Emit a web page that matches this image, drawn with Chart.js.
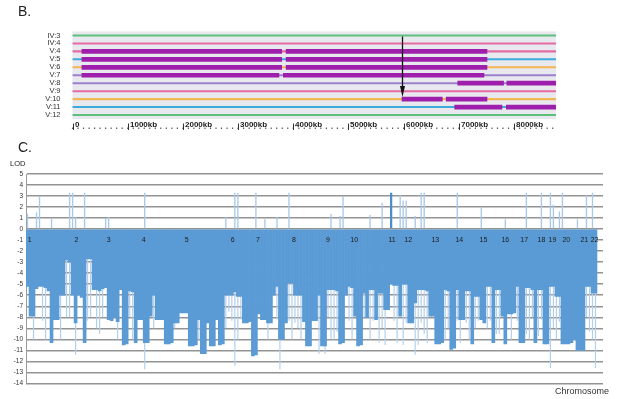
<!DOCTYPE html>
<html>
<head>
<meta charset="utf-8">
<script src="https://cdn.jsdelivr.net/npm/chart.js@4/dist/chart.umd.min.js"></script>
<style>
  html, body { margin:0; padding:0; background:#fff; width:628px; height:399px; overflow:hidden; }
  #wrap { position:relative; width:628px; height:399px; font-family:"Liberation Sans", Arial, sans-serif; }
  canvas { position:absolute; left:0; }
  #cB { top:0; }
  #cC { top:135px; }
  .t { position:absolute; color:#222; white-space:nowrap; line-height:1; }
</style>
</head>
<body>
<div id="wrap">
  <canvas id="cB" width="628" height="135"></canvas>
  <canvas id="cC" width="628" height="264"></canvas>
  <div class="t" style="left:18px;top:4px;font-size:14px;">B.</div>
  <div class="t" style="left:18px;top:140px;font-size:14px;">C.</div>
  <div class="t" style="left:10px;top:160px;font-size:7.5px;">LOD</div>
  <div class="t" style="left:555px;top:387px;font-size:9px;color:#333;">Chromosome</div>
</div>
<script>
// ---------------- Panel B data ----------------
const rowLabels = ["IV:3","IV:4","V:4","V:5","V:6","V:7","V:8","V:9","V:10","V:11","V:12"];
const rowColors = ["#5cc07c","#e56aa3","#e56aa3","#3fa9dc","#f2b654","#9d80cc","#9d80cc","#e56aa3","#f2b654","#3fa9dc","#5cc07c"];
const trackStartKb = 0;
const trackEndKb = 8760;
const segment1 = [null,null,[170,3790],[170,3790],[170,3790],[170,3740],[6980,7810],null,[5970,6700],[6925,7780],null];
const segment2 = [null,null,[3870,7510],[3870,7510],[3870,7510],[3820,7455],[7870,8760],null,[6770,7510],[7860,8760],null];
const arrowKb = 5970;
const arrowFromRow = 0;
const arrowToRow = 8;
const axisTickKb = [0,1000,2000,3000,4000,5000,6000,7000,8000];
const axisTickLabels = ["0","1000kb","2000kb","3000kb","4000kb","5000kb","6000kb","7000kb","8000kb"];

// ---------------- Panel C data ----------------
const lodDepth = [
 -5.2,-7.9,-7.9,-5.4,-5.2,-5.2,-5.3,-5.6,-10.3,-8.2,
 -8.2,-6,-6,-2.8,-3,-6,-8.5,-6,-6.2,-10.3,
 -2.7,-2.7,-5.5,-5.5,-5.6,-5.4,-5.3,-8.2,-8.3,-8.0,
 -8.4,-5.5,-10.5,-10.4,-5.6,-5.7,-10.3,-8.2,-8.2,-10.3,
 -10.3,-7.9,-6,-8.2,-8.2,-8.2,-10.4,-10.4,-10.3,-8.5,
 -8.5,-7.6,-7.6,-7.6,-10.6,-10.6,-10.5,-8.2,-11.3,-11.3,
 -8.5,-10.6,-10.6,-8.2,-10.5,-10.4,-6,-6,-6,-5.7,
 -6.1,-6.1,-8.5,-8.5,-8.4,-11.5,-11.4,-7.7,-8.2,-8.2,
 -8.5,-8.5,-6,-5.2,-10,-10,-8.5,-4.9,-4.9,-6,
 -6,-6,-8.4,-10.6,-10.6,-8.3,-8.3,-6,-10.6,-10.6,
 -5.5,-5.5,-5.5,-5.6,-10.4,-10.3,-6,-5.2,-5.3,-7.9,
 -10.6,-10.5,-5.8,-8,-5.5,-5.5,-8.2,-5.8,-5.8,-7.3,
 -7.3,-5,-5.1,-5.1,-7.9,-5,-5,-8.5,-8.5,-6.7,
 -5.5,-5.5,-5.5,-5.6,-7.9,-7.9,-10.4,-10.4,-10.3,-5.5,
 -5.6,-10.9,-10.8,-5.5,-8.2,-8.2,-5.6,-5.6,-10.4,-6.1,
 -6.1,-8.2,-8.5,-5.2,-5.2,-10.3,-5.5,-5.5,-7.9,-10.4,
 -7.7,-7.7,-7.6,-5.2,-10.3,-10.3,-5.3,-5.3,-5.5,-10.3,
 -5.5,-5.5,-10.4,-10.4,-5.2,-5.2,-6.1,-6.1,-10.4,-10.4,
 -10.4,-10.3,-10,-11,-11,-11,-5.2,-5.2,-5.8,-5.8
];
const trailingEmptyBins = 2;
const lightNegBins = [2,5,6,11,13,14,16,20,21,23,24,25,30,34,35,39,42,49,57,66,67,68,69,70,71,80,83,84,87,88,89,90,91,97,99,100,101,102,103,107,108,112,114,115,117,118,119,122,123,125,126,129,130,131,132,133,139,140,143,144,146,147,149,150,153,154,156,157,161,163,166,167,168,170,171,174,175,176,177,186,187,188,189];
const lightNegVals = [-10,-8.3,-10,-10,-8,-8,-11.4,-8.3,-8,-9,-9.5,-8,-10,-8,-10,-12.7,-9,-9,-10,-9,-7.5,-8.3,-12.4,-10,-8.2,-10,-8.2,-12.7,-8.3,-10,-8.5,-9,-10,-11.3,-11.3,-8,-10,-10,-9.3,-8.3,-10,-8,-10,-8.3,-10.3,-9,-10.5,-8.3,-10.3,-10.5,-8.5,-11.4,-10.5,-8.5,-9.5,-10.3,-10,-9,-8.3,-10.3,-8.5,-10,-9,-8.3,-9,-8.3,-9.5,-9.5,-10,-8.3,-9.5,-10,-8,-9.7,-8.2,-12.6,-9,-10,-8.4,-8,-9.3,-10,-12.6];
const posBins = [0,3,4,8,14,15,16,19,26,27,39,66,69,70,76,79,83,87,101,104,105,114,118,124,125,126,129,131,132,143,151,159,166,171,174,175,177,178,183,186,188];
const posVals = [1.4,1.5,3.0,1.0,3.3,3.3,1.1,3.3,1.0,1.1,3.3,1.1,3.3,3.3,3.3,0.9,1.1,3.3,1.4,1.2,3.0,1.3,2.4,3.1,2.6,2.6,1.2,3.3,3.3,3.3,2.0,0.9,3.3,3.3,3.3,2.2,1.6,3.3,0.9,3.1,3.3];
const peakBins = [121];
const peakVals = [3.3];
const chrLabels = ["1","2","3","4","5","6","7","8","9","10","11","12","13","14","15","16","17","18","19","20","21","22"];
const chrPos = [0.7,16.3,27,38.7,53,68.3,76.7,88.7,100,108.7,121.3,126.7,135.7,143.7,151.7,159,165.3,171,174.7,179.3,185.3,188.7];
const chrLabelLod = -0.95;
const yMin = -14, yMax = 5;

// ---------------- Panel B chart ----------------
const bgPlugin = {
  id:'bandBg',
  beforeDatasetsDraw(chart){
    const {ctx, chartArea:a} = chart;
    ctx.save(); ctx.fillStyle = '#e8e8ef';
    ctx.fillRect(a.left, a.top, a.right - a.left, a.bottom - a.top);
    ctx.restore();
  }
};
const arrowPlugin = {
  id:'arrow',
  afterDatasetsDraw(chart){
    const {ctx} = chart;
    const xs = chart.scales.x, ys = chart.scales.y;
    const x = Math.round(xs.getPixelForValue(arrowKb)) + 0.5;
    const y1 = ys.getPixelForValue(arrowFromRow) + 1;
    const y2 = ys.getPixelForValue(arrowToRow) - 2;
    ctx.save();
    ctx.strokeStyle = '#111'; ctx.fillStyle = '#111'; ctx.lineWidth = 1.3;
    ctx.beginPath(); ctx.moveTo(x, y1); ctx.lineTo(x, y2 - 8); ctx.stroke();
    ctx.beginPath(); ctx.moveTo(x - 2.5, y2 - 11); ctx.lineTo(x + 2.5, y2 - 11); ctx.lineTo(x, y2); ctx.closePath(); ctx.fill();
    ctx.restore();
  }
};
const kbAxisPlugin = {
  id:'kbAxis',
  afterDraw(chart){
    const {ctx} = chart;
    const xs = chart.scales.x;
    ctx.save();
    ctx.fillStyle = '#333';
    for (let kb = 0; kb <= trackEndKb; kb += 100) {
      const x = xs.getPixelForValue(kb);
      ctx.fillRect(x - 0.6, 127.6, 1.2, 1.2);
    }
    ctx.strokeStyle = '#333'; ctx.lineWidth = 1;
    ctx.font = 'bold 8px "Liberation Sans", Arial, sans-serif';
    ctx.textAlign = 'left'; ctx.textBaseline = 'alphabetic';
    axisTickKb.forEach((kb, i) => {
      const x = Math.round(xs.getPixelForValue(kb)) + 0.5;
      ctx.beginPath(); ctx.moveTo(x, 123.5); ctx.lineTo(x, 130); ctx.stroke();
      ctx.fillStyle = '#222';
      ctx.fillText(axisTickLabels[i], x + 1.5, 126.5);
    });
    ctx.restore();
  }
};

new Chart(document.getElementById('cB'), {
  type:'bar',
  data:{
    labels: rowLabels,
    datasets:[
      { label:'track', data: rowLabels.map(() => [trackStartKb, trackEndKb]), backgroundColor: rowColors, barThickness: 1.4, order: 3 },
      { label:'seg1', data: segment1, backgroundColor:'#9e1fab', barThickness: 4, order: 1 },
      { label:'seg2', data: segment2, backgroundColor:'#9e1fab', barThickness: 4, order: 1 }
    ]
  },
  options:{
    indexAxis:'y',
    responsive:false, animation:false, devicePixelRatio:1,
    layout:{ padding:{ top:31.5, bottom:16, left:0, right:72 } },
    datasets:{ bar:{ grouped:false, borderWidth:0 } },
    plugins:{ legend:{display:false}, tooltip:{enabled:false} },
    scales:{
      x:{ type:'linear', min:0, max:trackEndKb, display:false },
      y:{ type:'category', offset:true,
          grid:{ display:false }, border:{ display:false },
          ticks:{ autoSkip:false, color:'#333', padding:4, font:{ size:7.5, family:'"Liberation Sans", Arial, sans-serif' } },
          afterFit(s){ s.width = 72.5; } }
    }
  },
  plugins:[bgPlugin, arrowPlugin, kbAxisPlugin]
});

// ---------------- Panel C chart ----------------
const binLabels = lodDepth.map((_, i) => String(i)).concat(Array.from({length: trailingEmptyBins}, (_, k) => 'e' + k));
const toPts = (bins, vals) => bins.map((b, i) => ({ x: String(b), y: vals[i] }));

const chrPlugin = {
  id:'chrLabels',
  afterDatasetsDraw(chart){
    const {ctx} = chart;
    const xs = chart.scales.x, ys = chart.scales.y;
    ctx.save();
    ctx.fillStyle = '#1b1b1b';
    ctx.font = '7px "Liberation Sans Narrow", "Liberation Sans", Arial, sans-serif';
    ctx.textAlign = 'center'; ctx.textBaseline = 'middle';
    const y = ys.getPixelForValue(chrLabelLod);
    chrLabels.forEach((t, i) => ctx.fillText(t, xs.getPixelForValue(chrPos[i]), y));
    ctx.restore();
  }
};

new Chart(document.getElementById('cC'), {
  type:'bar',
  data:{
    labels: binLabels,
    datasets:[
      { label:'LOD', data: lodDepth, backgroundColor:'#5b9bd5', barPercentage:1, categoryPercentage:1, order:2 },
      { label:'LOD light', data: toPts(lightNegBins, lightNegVals), backgroundColor:'#b4cfeb', barPercentage:0.4, categoryPercentage:1, order:3 },
      { label:'LOD positive', data: toPts(posBins, posVals), backgroundColor:'#a9c9ea', barPercentage:0.45, categoryPercentage:1, order:3 },
      { label:'LOD peak', data: toPts(peakBins, peakVals), backgroundColor:'#4a8ccd', barPercentage:0.75, categoryPercentage:1, order:1 }
    ]
  },
  options:{
    responsive:false, animation:false, devicePixelRatio:1,
    layout:{ padding:{ top:39, bottom:15.5, left:0, right:25 } },
    datasets:{ bar:{ grouped:false, borderWidth:0 } },
    plugins:{ legend:{display:false}, tooltip:{enabled:false} },
    scales:{
      x:{ type:'category', display:false, offset:true, grid:{display:false} },
      y:{ min:yMin, max:yMax,
          grid:{ color:'#939393', lineWidth:1.6, drawTicks:false },
          border:{ display:true, color:'#9a9a9a', width:1 },
          ticks:{ stepSize:1, color:'#333', padding:3, font:{ size:6.5, family:'"Liberation Sans Narrow", "Liberation Sans", Arial, sans-serif' } },
          afterFit(s){ s.width = 26; } }
    }
  },
  plugins:[chrPlugin]
});
</script>
</body>
</html>
